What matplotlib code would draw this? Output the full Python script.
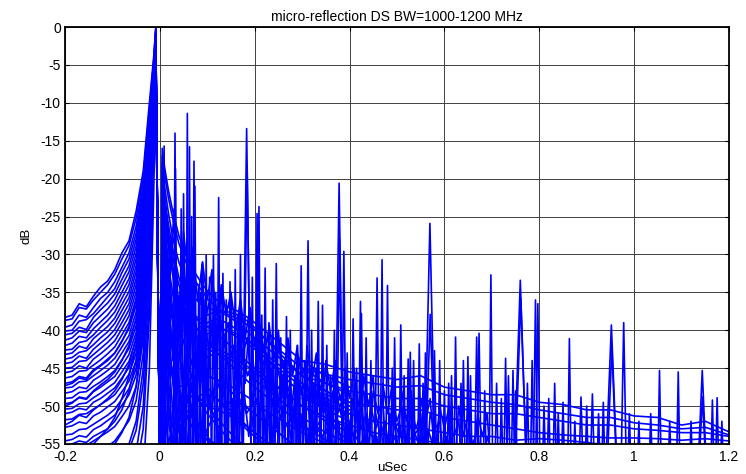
import matplotlib
matplotlib.use("Agg")
import matplotlib.pyplot as plt
from matplotlib.ticker import FuncFormatter
import numpy as np

plt.rcParams['font.family'] = ['Liberation Sans', 'DejaVu Sans']

# left side of the main response, rising to the peak
skirt_x = [-0.2, -0.185, -0.17, -0.155, -0.14, -0.125, -0.11, -0.095, -0.08, -0.065, -0.05, -0.035, -0.022, -0.013, -0.0085]
skirt_db = [
    [-38.3, -38.0, -36.5, -36.9, -35.5, -34.3, -33.5, -32.0, -29.8, -28.2, -24.3, -19.0, -10.0, -4.0, 0.0],
    [-38.7, -38.5, -37.0, -37.2, -36.0, -35.0, -34.0, -32.6, -30.6, -28.8, -25.2, -19.8, -10.8, -4.4, -0.2],
    [-39.6, -39.3, -38.0, -38.3, -37.0, -35.8, -35.0, -33.6, -31.7, -29.8, -26.3, -20.7, -11.5, -4.8, -0.3],
    [-40.1, -40.0, -38.8, -38.6, -37.8, -36.7, -35.6, -34.5, -32.4, -30.6, -27.2, -21.5, -12.2, -5.1, -0.5],
    [-40.6, -40.4, -39.6, -39.9, -38.3, -37.3, -36.4, -35.2, -33.3, -31.5, -28.0, -22.2, -12.8, -5.4, -0.6],
    [-41.3, -41.0, -40.1, -40.3, -39.0, -38.1, -37.2, -36.0, -34.1, -32.3, -28.9, -23.0, -13.4, -5.7, -0.8],
    [-42.0, -41.7, -40.8, -41.0, -39.8, -38.9, -38.0, -36.8, -35.0, -33.2, -29.8, -23.8, -14.0, -6.0, -0.9],
    [-42.6, -42.5, -41.6, -41.4, -40.6, -39.6, -38.7, -37.6, -35.8, -34.0, -30.6, -24.6, -14.6, -6.3, -1.1],
    [-43.2, -43.0, -42.1, -42.4, -41.1, -40.3, -39.5, -38.4, -36.6, -34.9, -31.5, -25.4, -15.2, -6.6, -1.2],
    [-43.8, -43.6, -42.9, -42.7, -41.9, -41.0, -40.2, -39.1, -37.4, -35.7, -32.3, -26.2, -15.8, -6.9, -1.4],
    [-44.4, -44.2, -43.4, -43.7, -42.5, -41.7, -40.9, -39.9, -38.2, -36.5, -33.2, -27.0, -16.4, -7.2, -1.5],
    [-45.0, -44.9, -44.1, -44.0, -43.2, -42.4, -41.6, -40.6, -39.0, -37.3, -34.0, -27.8, -17.0, -7.5, -1.7],
    [-45.6, -45.4, -44.7, -45.0, -43.8, -43.1, -42.3, -41.4, -39.8, -38.1, -34.9, -28.6, -17.6, -7.8, -1.8],
    [-46.3, -46.1, -45.4, -45.3, -44.6, -43.9, -43.1, -42.2, -40.6, -39.0, -35.8, -29.5, -18.3, -8.2, -2.0],
    [-47.0, -46.8, -46.1, -46.3, -45.2, -44.6, -43.8, -43.0, -41.4, -39.8, -36.7, -30.3, -19.0, -8.5, -2.1],
    [-47.3, -47.0, -46.3, -46.5, -45.4, -44.7, -44.0, -43.0, -41.5, -39.5, -36.0, -30.0, -19.0, -8.5, -1.6],
    [-47.6, -47.5, -46.8, -46.7, -46.0, -45.3, -44.6, -43.7, -42.2, -40.7, -37.6, -31.2, -19.7, -8.9, -2.3],
    [-48.3, -48.1, -47.5, -47.7, -46.6, -46.0, -45.3, -44.5, -43.0, -41.5, -38.5, -32.1, -20.4, -9.3, -2.5],
    [-49.0, -48.9, -48.2, -48.1, -47.4, -46.8, -46.1, -45.3, -43.9, -42.4, -39.4, -33.0, -21.2, -9.7, -2.7],
    [-49.7, -49.5, -48.9, -49.1, -48.1, -47.5, -46.8, -46.1, -44.7, -43.2, -40.3, -33.9, -22.0, -10.1, -2.9],
    [-50.0, -49.6, -48.8, -49.0, -48.0, -47.2, -46.5, -45.5, -44.0, -42.0, -38.5, -32.0, -20.5, -9.2, -2.0],
    [-50.4, -50.3, -49.7, -49.6, -48.9, -48.3, -47.6, -46.9, -45.5, -44.1, -41.2, -34.8, -22.8, -10.5, -3.1],
    [-51.0, -50.8, -50.3, -50.5, -49.5, -49.0, -48.3, -47.6, -46.3, -44.9, -42.1, -35.7, -23.6, -10.9, -3.3],
    [-51.8, -51.7, -51.1, -51.0, -50.4, -49.8, -49.2, -48.5, -47.2, -45.8, -43.0, -36.7, -24.5, -11.4, -3.5],
    [-52.5, -52.0, -51.2, -51.5, -50.5, -49.8, -49.0, -48.0, -46.5, -44.5, -41.0, -34.0, -22.0, -10.0, -2.4],
    [-52.8, -52.6, -52.1, -52.3, -51.3, -50.8, -50.1, -49.4, -48.1, -46.7, -44.0, -37.7, -25.4, -11.9, -3.7],
    [-53.8, -53.7, -53.1, -53.0, -52.4, -51.8, -51.2, -50.4, -49.1, -47.7, -45.0, -38.7, -26.4, -12.4, -3.9],
    [-54.6, -54.4, -53.9, -54.1, -53.1, -52.6, -51.9, -51.2, -49.9, -48.5, -45.9, -39.7, -27.3, -12.9, -4.1],
    [-55.5, -55.0, -54.6, -54.8, -54.0, -53.5, -53.0, -52.0, -50.5, -48.0, -44.0, -36.5, -24.0, -11.5, -3.0],
    [-56.0, -55.8, -55.3, -55.2, -54.6, -54.0, -53.4, -52.7, -51.4, -50.0, -47.4, -41.2, -28.6, -13.6, -4.4],
    [-57.0, -56.5, -56.0, -55.8, -55.0, -54.0, -53.0, -51.5, -49.0, -46.0, -42.0, -34.5, -22.5, -10.5, -2.5],
    [-58.0, -57.8, -57.3, -57.5, -56.5, -56.0, -55.3, -54.6, -53.3, -51.9, -49.3, -43.0, -30.2, -14.4, -4.7],
    [-60.0, -60.0, -59.0, -58.5, -58.0, -57.0, -56.0, -55.0, -53.5, -51.5, -47.5, -40.0, -27.0, -13.0, -3.4],
    [-61.0, -61.0, -60.5, -60.3, -59.8, -59.2, -58.6, -58.0, -57.0, -55.8, -53.2, -47.0, -33.5, -16.0, -5.2],
    [-62.0, -62.0, -61.5, -61.0, -60.0, -59.5, -58.5, -57.5, -56.5, -55.0, -52.0, -45.0, -31.0, -15.0, -4.0],
    [-64.0, -64.0, -63.5, -63.5, -63.0, -62.5, -62.0, -61.5, -61.0, -60.5, -58.5, -53.0, -38.0, -18.5, -5.8],
    [-66.0, -66.0, -65.0, -64.5, -64.0, -63.5, -63.0, -62.0, -61.0, -59.5, -56.0, -50.0, -36.0, -17.0, -4.6],
    [-68.0, -68.0, -67.5, -67.5, -67.0, -66.5, -66.0, -65.5, -65.0, -64.5, -63.0, -59.0, -45.0, -22.0, -6.5],
]
null_x = 0.0
null_db = -60.0

# right side decay after the null
tail_x = [0.005, 0.01, 0.018, 0.028, 0.04, 0.055, 0.07, 0.085, 0.1, 0.12, 0.14, 0.165, 0.19, 0.22, 0.26, 0.3, 0.35, 0.4]
tail_db = [
    [-16.0, -18.5, -21.5, -24.5, -27.5, -30.0, -32.0, -33.5, -34.8, -36.0, -36.8, -37.5, -38.5, -40.0, -42.0, -44.0, -46.0, -47.5],
    [-17.0, -19.5, -22.5, -25.5, -28.5, -31.0, -33.0, -34.5, -35.8, -37.0, -37.8, -38.5, -39.5, -41.0, -43.0, -45.0, -47.0, -48.5],
    [-18.0, -21.0, -24.5, -28.0, -31.0, -33.5, -35.5, -36.5, -37.0, -37.5, -38.0, -39.0, -40.5, -42.0, -44.0, -46.0, -48.0, -49.5],
    [-19.0, -22.5, -26.0, -29.5, -33.0, -36.0, -38.0, -39.0, -39.5, -39.5, -40.0, -41.0, -42.0, -43.5, -45.5, -47.5, -49.5, -51.0],
    [-20.0, -23.5, -27.5, -32.0, -38.0, -50.0, -45.0, -40.5, -39.0, -38.5, -39.0, -40.0, -41.5, -43.0, -45.0, -47.0, -49.0, -50.5],
    [-21.0, -24.5, -28.5, -32.5, -36.0, -38.5, -40.5, -41.5, -42.0, -42.5, -43.0, -44.0, -45.0, -46.5, -48.0, -50.0, -51.5, -53.0],
    [-22.0, -26.0, -31.0, -38.0, -58.0, -44.0, -40.5, -39.5, -39.5, -40.5, -41.5, -43.0, -44.5, -46.0, -48.0, -50.0, -52.0, -53.5],
    [-23.0, -27.0, -31.5, -35.5, -39.5, -42.5, -44.5, -45.5, -46.0, -46.5, -47.0, -48.0, -49.0, -50.5, -52.0, -53.5, -55.0, -56.5],
    [-24.0, -28.5, -33.5, -39.0, -47.0, -56.0, -49.0, -45.0, -43.5, -43.0, -43.5, -44.5, -46.0, -47.5, -49.5, -51.5, -53.5, -55.0],
    [-25.5, -30.0, -35.0, -39.5, -43.5, -46.5, -48.5, -49.5, -50.0, -50.5, -51.0, -52.0, -53.0, -54.5, -56.0, -57.5, -59.0, -60.0],
    [-26.5, -31.0, -36.5, -43.0, -58.0, -47.0, -43.5, -42.5, -42.5, -43.0, -44.0, -45.5, -47.0, -48.5, -50.5, -52.5, -54.5, -56.0],
    [-27.5, -32.5, -38.0, -43.0, -47.5, -51.0, -53.0, -54.0, -54.5, -55.0, -55.5, -56.5, -57.5, -58.5, -60.0, -61.0, -62.0, -63.0],
    [-29.0, -34.0, -40.0, -47.0, -58.0, -50.0, -47.0, -46.0, -46.0, -46.5, -47.5, -49.0, -50.5, -52.0, -54.0, -56.0, -58.0, -59.5],
    [-30.0, -35.5, -41.5, -47.0, -52.0, -55.5, -57.0, -56.0, -53.0, -50.5, -49.5, -49.5, -50.5, -52.0, -54.0, -56.0, -58.0, -60.0],
    [-31.5, -37.0, -43.5, -51.0, -58.0, -52.0, -49.5, -48.5, -48.5, -49.0, -50.0, -51.5, -53.0, -54.5, -56.5, -58.5, -60.0, -61.5],
    [-33.0, -39.0, -46.0, -56.0, -50.0, -47.0, -46.0, -46.5, -47.5, -49.0, -50.5, -52.0, -53.5, -55.0, -57.0, -59.0, -61.0, -62.5],
    [-34.5, -41.0, -49.0, -58.0, -52.0, -49.5, -48.5, -49.0, -50.0, -51.5, -53.0, -54.5, -56.0, -57.5, -59.0, -60.5, -62.0, -63.5],
    [-36.0, -43.0, -52.0, -56.0, -53.0, -51.5, -51.5, -52.5, -54.0, -55.5, -57.0, -58.5, -60.0, -61.5, -63.0, -64.5, -66.0, -67.5],
    [-38.0, -46.0, -58.0, -50.0, -47.5, -47.0, -48.0, -49.5, -51.0, -52.5, -54.0, -55.5, -57.0, -58.5, -60.0, -61.5, -63.0, -64.5],
    [-40.0, -50.0, -55.0, -52.0, -50.5, -50.5, -51.5, -53.0, -54.5, -56.0, -57.5, -59.0, -60.5, -62.0, -63.5, -65.0, -66.5, -68.0],
    [-19.5, -23.0, -27.0, -30.5, -34.0, -36.5, -38.0, -38.5, -38.0, -37.5, -37.5, -38.0, -39.0, -41.0, -43.5, -46.0, -48.0, -50.0],
    [-21.5, -25.0, -29.0, -33.0, -36.5, -39.0, -40.5, -41.0, -40.5, -40.0, -40.0, -40.5, -41.5, -43.5, -46.0, -48.5, -50.5, -52.0],
]

# ragged traces through the multipath region
jag_x = [0.00, 0.01, 0.02, 0.03, 0.04, 0.05, 0.06, 0.07, 0.08, 0.09, 0.10, 0.11, 0.12, 0.13, 0.14, 0.15, 0.16, 0.17,
         0.18, 0.19, 0.20, 0.21, 0.22, 0.23, 0.24, 0.25, 0.26, 0.27, 0.28, 0.29, 0.30, 0.31, 0.32, 0.33, 0.34, 0.35,
         0.36, 0.37, 0.38, 0.39, 0.40, 0.41, 0.42, 0.43, 0.44, 0.45, 0.46, 0.47, 0.48, 0.49, 0.50, 0.51, 0.52, 0.53,
         0.54, 0.55, 0.56, 0.57, 0.58, 0.59, 0.60, 0.61, 0.62, 0.63, 0.64, 0.65, 0.66, 0.67, 0.68, 0.69, 0.70]
jag_db = [
    [-60, -22, -30, -26, -38, -28, -45, -30, -36, -31, -50, -33, -38, -34, -58, -35, -40, -36, -47, -37, -42, -38,
     -60, -39, -44, -40, -49, -41, -46, -42, -60, -42, -47, -43, -52, -44, -48, -44, -60, -45, -49, -45, -55, -46,
     -50, -46, -60, -47, -51, -47, -56, -48, -52, -48, -60, -49, -52, -49, -57, -50, -53, -50, -60, -50, -54, -51,
     -58, -51, -54, -51, -60],
    [-60, -26, -35, -24, -42, -27, -33, -29, -60, -31, -36, -32, -44, -34, -38, -35, -60, -36, -41, -37, -48, -39,
     -43, -40, -60, -41, -45, -42, -53, -43, -46, -44, -60, -45, -48, -45, -55, -46, -49, -47, -60, -47, -50, -48,
     -56, -48, -51, -49, -60, -49, -52, -50, -57, -50, -53, -51, -60, -51, -53, -52, -58, -52, -54, -52, -60, -53,
     -55, -53, -60, -54, -56],
    [-60, -30, -42, -35, -60, -37, -40, -38, -48, -39, -43, -40, -60, -41, -45, -42, -50, -43, -46, -44, -60, -44,
     -48, -45, -53, -46, -49, -47, -60, -47, -50, -48, -55, -48, -51, -49, -60, -49, -52, -50, -56, -50, -53, -51,
     -60, -51, -54, -52, -57, -52, -54, -53, -60, -53, -55, -54, -60, -54, -56, -55, -60, -55, -57, -56, -60, -56,
     -58, -57, -60, -57, -60],
    [-60, -34, -28, -45, -32, -36, -33, -55, -35, -39, -36, -46, -38, -41, -39, -60, -40, -43, -41, -50, -42, -45,
     -43, -60, -44, -47, -45, -52, -46, -48, -47, -60, -47, -50, -48, -54, -48, -51, -49, -60, -49, -52, -50, -55,
     -50, -53, -51, -60, -51, -53, -52, -57, -52, -54, -53, -60, -53, -55, -54, -58, -54, -56, -55, -60, -55, -57,
     -56, -60, -57, -58, -60],
    [-60, -40, -46, -44, -52, -45, -48, -46, -60, -47, -49, -48, -55, -48, -50, -49, -60, -49, -51, -50, -57, -50,
     -52, -51, -60, -51, -53, -52, -58, -52, -53, -53, -60, -53, -54, -53, -58, -53, -54, -54, -60, -54, -55, -54,
     -59, -54, -55, -55, -60, -55, -56, -55, -60, -55, -56, -56, -60, -56, -57, -56, -60, -56, -57, -57, -60, -57,
     -58, -57, -60, -58, -60],
    [-60, -36, -44, -40, -47, -42, -60, -43, -46, -45, -51, -46, -48, -47, -60, -47, -50, -48, -54, -48, -50, -49,
     -60, -49, -51, -50, -56, -50, -52, -51, -60, -51, -53, -52, -57, -52, -53, -52, -60, -52, -54, -53, -58, -53,
     -54, -54, -60, -54, -55, -54, -59, -54, -55, -55, -60, -55, -56, -55, -60, -55, -56, -56, -60, -56, -57, -56,
     -60, -57, -57, -57, -60],
]
jag_shift = [0.0, 0.0, 0.005, 0.005, 0.0025, 0.0075]

# late-time floor traces
floor_x = [0.3, 0.35, 0.4, 0.45, 0.5, 0.55, 0.6, 0.65, 0.7, 0.75, 0.8, 0.85, 0.9, 0.95, 1.0, 1.05, 1.1, 1.15, 1.2]
floor_db = [
    [-44.0, -44.5, -45.5, -46.0, -46.5, -46.0, -47.5, -48.0, -48.5, -48.5, -49.5, -49.8, -50.5, -50.5, -51.3, -51.5, -52.5, -52.0, -53.4],
    [-45.0, -45.8, -46.5, -47.0, -47.5, -47.3, -48.5, -49.0, -49.5, -49.8, -50.5, -51.0, -51.5, -51.5, -52.2, -52.5, -53.0, -52.8, -53.8],
    [-46.0, -47.0, -48.0, -48.5, -49.0, -49.0, -50.0, -50.5, -51.0, -51.0, -51.5, -52.0, -52.5, -52.5, -53.0, -53.2, -53.5, -53.5, -54.0],
    [-47.5, -48.5, -49.5, -50.0, -50.5, -50.5, -51.5, -52.0, -52.5, -53.0, -53.5, -53.8, -54.0, -54.2, -54.2, -54.3, -54.5, -54.3, -54.6],
    [-49.0, -50.0, -51.0, -52.0, -52.5, -53.0, -53.5, -54.0, -54.0, -54.5, -54.3, -54.5, -54.8, -55.2, -55.5, -55.5, -55.5, -55.5, -55.5],
    [-50.0, -51.5, -52.5, -53.5, -54.0, -54.5, -55.0, -55.5, -56.0, -56.0, -56.5, -56.5, -57.0, -57.0, -57.0, -57.0, -57.0, -57.0, -57.0],
]

# discrete reflections: delay (uSec), peak level (dB), half width (uSec)
spike_x = [0.009, 0.032, 0.033, 0.058, 0.0625, 0.072, 0.074, 0.0886, 0.0977, 0.113, 0.124, 0.133,
           0.148, 0.159, 0.183, 0.184, 0.205, 0.209, 0.222, 0.2455, 0.267, 0.298, 0.3125, 0.334,
           0.343, 0.378, 0.379, 0.388, 0.4075, 0.423, 0.425, 0.458, 0.4685, 0.48, 0.508, 0.5236,
           0.528, 0.547, 0.5694, 0.570, 0.579, 0.609, 0.6235, 0.6495, 0.668, 0.673, 0.698, 0.729,
           0.7446, 0.760, 0.761, 0.792, 0.797, 0.8325, 0.85, 0.8635, 0.888, 0.912, 0.952, 0.953,
           0.978, 1.0535, 1.093, 1.1436, 1.144, 1.165, 1.175,
           0.02, 0.045, 0.05, 0.067, 0.082, 0.093, 0.105, 0.118, 0.128, 0.14, 0.165, 0.17, 0.195,
           0.215, 0.23, 0.238, 0.255, 0.262, 0.275, 0.285, 0.29, 0.305, 0.32, 0.328, 0.352, 0.36,
           0.368, 0.395, 0.415, 0.435, 0.445, 0.49, 0.495, 0.515, 0.535, 0.555, 0.56, 0.59, 0.6,
           0.615, 0.635, 0.64, 0.655, 0.685, 0.71, 0.72, 0.735, 0.75, 0.775, 0.785, 0.81, 0.82,
           0.84, 0.875, 0.9, 0.925, 0.935, 0.99, 1.01, 1.035, 1.075, 1.12, 1.185]
spike_top = [-15.7, -14.0, -18.7, -11.4, -15.8, -17.7, -21.0, -31.4, -30.1, -30.1, -22.5, -32.5,
             -33.6, -32.0, -13.4, -18.2, -24.6, -23.7, -31.8, -31.2, -38.2, -31.5, -28.2, -36.2,
             -36.7, -20.6, -28.0, -29.6, -38.5, -36.2, -37.8, -33.1, -30.7, -34.1, -39.3, -43.8,
             -42.9, -41.8, -25.9, -37.9, -42.7, -47.0, -40.9, -43.5, -40.9, -40.4, -32.7, -43.7,
             -45.3, -33.4, -35.8, -36.0, -36.5, -47.0, -49.5, -41.1, -48.8, -48.4, -39.3, -42.2,
             -39.0, -45.3, -45.5, -45.3, -48.8, -49.2, -48.9,
             -28.0, -24.0, -22.0, -25.0, -34.0, -36.0, -33.0, -35.0, -38.0, -36.0, -38.0, -30.0, -33.0,
             -38.0, -40.0, -36.0, -41.0, -44.0, -40.0, -46.0, -42.0, -44.0, -40.0, -45.0, -42.0, -46.0,
             -40.0, -43.0, -45.0, -41.0, -44.0, -45.0, -41.0, -46.0, -44.0, -47.0, -43.0, -44.0, -48.0,
             -46.0, -47.0, -44.0, -46.0, -48.0, -47.0, -49.0, -46.0, -48.0, -47.0, -44.0, -50.0, -49.0,
             -51.0, -52.0, -50.0, -51.0, -49.5, -51.0, -52.0, -51.0, -52.0, -52.0, -52.0]
spike_w = [0.003, 0.004, 0.004, 0.003, 0.003, 0.004, 0.004, 0.004, 0.004, 0.004, 0.004, 0.004,
           0.004, 0.004, 0.010, 0.009, 0.004, 0.004, 0.004, 0.004, 0.004, 0.004, 0.005, 0.004,
           0.004, 0.009, 0.007, 0.005, 0.005, 0.005, 0.005, 0.005, 0.004, 0.004, 0.004, 0.004,
           0.004, 0.004, 0.012, 0.011, 0.005, 0.004, 0.004, 0.004, 0.005, 0.005, 0.004, 0.004,
           0.004, 0.014, 0.013, 0.005, 0.005, 0.004, 0.004, 0.004, 0.005, 0.005, 0.013, 0.011,
           0.006, 0.004, 0.004, 0.010, 0.009, 0.004, 0.004] + [0.004] * 64
spike_base = -60.0

fig = plt.figure(figsize=(7.46, 4.74), dpi=100)
ax = fig.add_axes([0.0871, 0.0633, 0.8901, 0.8797])

blue = (0, 0, 1)
lw = 1.2

for row in skirt_db:
    ax.plot(skirt_x + [null_x], row + [null_db], color=blue, lw=lw)

for row in tail_db:
    ax.plot([0.002] + tail_x, [null_db] + row, color=blue, lw=lw)

for row, dx in zip(jag_db, jag_shift):
    ax.plot(np.array(jag_x) + dx, row, color=blue, lw=lw)

for row in floor_db:
    ax.plot(floor_x, row, color=blue, lw=lw)

for sx, st, sw in zip(spike_x, spike_top, spike_w):
    ax.plot([sx - sw, sx, sx + sw], [spike_base, st, spike_base], color=blue, lw=lw)

ax.set_xlim(-0.2, 1.2)
ax.set_ylim(-55, 0)
ax.set_xticks(np.arange(-0.2, 1.21, 0.2))
ax.set_yticks(np.arange(-55, 0.1, 5))
ax.xaxis.set_major_formatter(FuncFormatter(lambda v, p: f"{v:g}" if abs(v) > 1e-9 else "0"))
ax.yaxis.set_major_formatter(FuncFormatter(lambda v, p: f"{v:g}"))

ax.grid(True, color="#404040", lw=0.7, ls="-")
ax.set_axisbelow(True)
ax.tick_params(direction="in", length=3, labelsize=10, colors="black", top=True, right=True)
ax.tick_params(axis="x", pad=4)
ax.tick_params(axis="y", pad=3)
for s in ax.spines.values():
    s.set_linewidth(1.3)
    s.set_color("black")

ax.set_title("micro-reflection DS BW=1000-1200 MHz", fontsize=10, pad=4)
ax.set_xlabel("uSec", fontsize=9.5)
ax.xaxis.set_label_coords(0.493, -0.044)
ax.set_ylabel("dB", fontsize=9.5, labelpad=6)

fig.savefig("out.png", dpi=100)
